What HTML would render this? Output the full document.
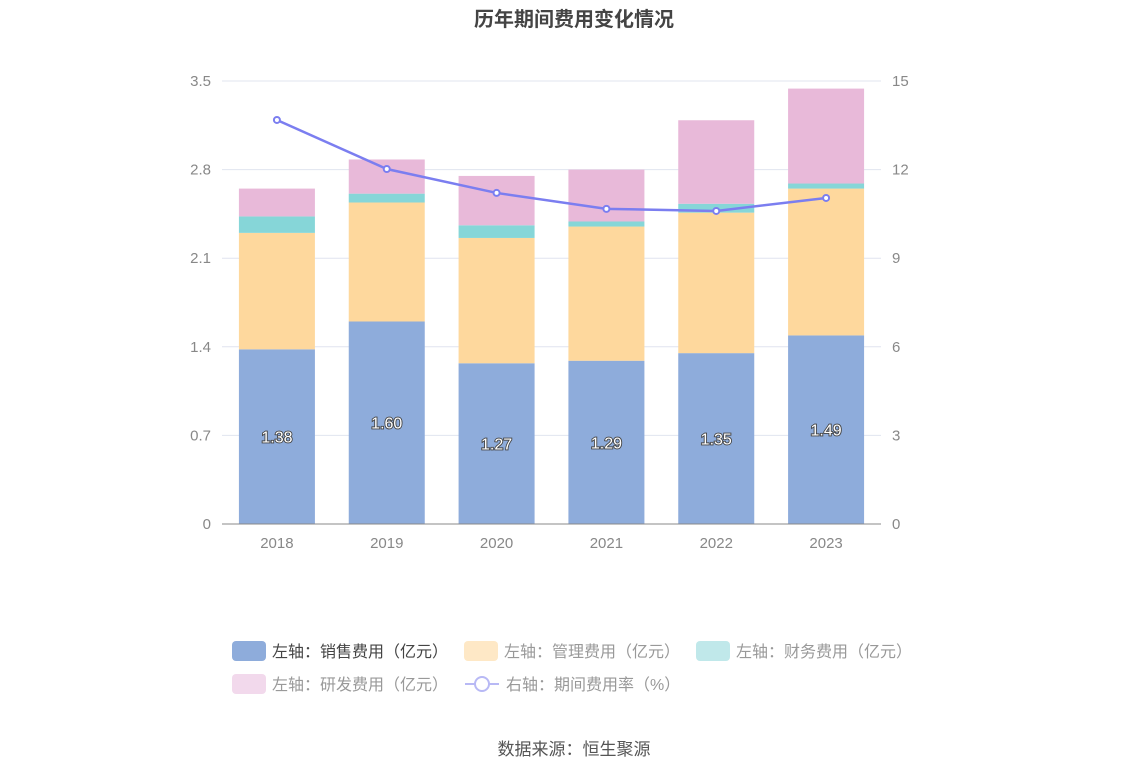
<!DOCTYPE html>
<html><head><meta charset="utf-8"><style>
body{margin:0;background:#fff;font-family:"Liberation Sans","Noto Sans CJK SC",sans-serif}
svg text{font-family:"Liberation Sans","Noto Sans CJK SC",sans-serif}
</style></head><body>
<svg id="c" width="1148" height="776">
<text x="574" y="26" text-anchor="middle" font-size="20" font-weight="bold" fill="#444">历年期间费用变化情况</text>
<g id="grid"></g><g id="bars"></g><g id="line"></g><g id="axes"></g>
<g id="legend"></g>
<text x="574" y="755" text-anchor="middle" font-size="17" fill="#555">数据来源：恒生聚源</text>
</svg>
<script>
const years=['2018','2019','2020','2021','2022','2023'];
const sales=[1.38,1.60,1.27,1.29,1.35,1.49];
const mgmt=[0.92,0.94,0.99,1.06,1.11,1.16];
const fin=[0.13,0.07,0.10,0.04,0.07,0.04];
const rnd=[0.22,0.27,0.39,0.41,0.66,0.75];
const rate=[13.68,12.02,11.21,10.67,10.60,11.04];
const leftTicks=['0','0.7','1.4','2.1','2.8','3.5'];
const rightTicks=['0','3','6','9','12','15'];
const NS='http://www.w3.org/2000/svg';
const L=222,R=881,T=81,B=524;
const yL=v=>B-v/3.5*(B-T), yR=v=>B-v/15*(B-T);
const cw=(R-L)/years.length, xc=i=>L+cw*(i+0.5), bw=76;
function mk(t,a,p){const e=document.createElementNS(NS,t);for(const k in a)e.setAttribute(k,a[k]);document.getElementById(p).appendChild(e);return e;}
leftTicks.forEach((t,i)=>{const y=B-i*(B-T)/5;
 if(i>0){const g=mk('line',{x1:L,x2:R,y1:y,y2:y,stroke:'#e0e4ef'},'grid');}
 const a=mk('text',{x:211,y:y+5,'text-anchor':'end','font-size':15,fill:'#888'},'axes');a.textContent=t;
 const b=mk('text',{x:892,y:y+5,'font-size':15,fill:'#888'},'axes');b.textContent=rightTicks[i];});
const ax=mk('line',{x1:L,x2:R,y1:B,y2:B,stroke:'#888'},'axes');
const series=[[sales,'#8eacdb','sales'],[mgmt,'#fed89d','mgmt'],[fin,'#86d6d8','finance'],[rnd,'#e8b9d9','rnd']];
years.forEach((yr,i)=>{let acc=0;
 series.forEach(([arr,col,nm])=>{const y1=yL(acc+arr[i]),y0=yL(acc);acc+=arr[i];
  const r=mk('rect',{x:xc(i)-bw/2,y:y1,width:bw,height:y0-y1,fill:col},'bars');});
 const t=mk('text',{x:xc(i),y:(yL(sales[i])+B)/2+6,'text-anchor':'middle','font-size':16,fill:'#fff',stroke:'#444','stroke-width':1.8,'paint-order':'stroke'},'bars');t.textContent=sales[i].toFixed(2);
 const x=mk('text',{x:xc(i),y:548,'text-anchor':'middle','font-size':15,fill:'#888'},'axes');x.textContent=yr;});
const pl=mk('polyline',{points:rate.map((v,i)=>xc(i)+','+yR(v)).join(' '),fill:'none',stroke:'#7b7ef0','stroke-width':2.5},'line');
rate.forEach((v,i)=>{const c=mk('circle',{cx:xc(i),cy:yR(v),r:3,fill:'#fff',stroke:'#7b7ef0','stroke-width':2},'line');});
const leg=[[232,651,'#8eacdb','左轴：销售费用（亿元）','#444'],[464,651,'#fee8c6','左轴：管理费用（亿元）','#999'],[696,651,'#c0e8ea','左轴：财务费用（亿元）','#999'],[232,684,'#f2d9ec','左轴：研发费用（亿元）','#999']];
leg.forEach(([x,y,c,t,tc])=>{const r=mk('rect',{x:x,y:y-10,width:34,height:20,rx:4,fill:c},'legend');
 const tx=mk('text',{x:x+40,y:y+6,'font-size':16,fill:tc},'legend');tx.textContent=t;});
const ll=mk('line',{x1:465,x2:499,y1:684,y2:684,stroke:'#b8b9f5','stroke-width':2},'legend');
const lc=mk('circle',{cx:482,cy:684,r:7,fill:'#fff',stroke:'#b8b9f5','stroke-width':2},'legend');
const lt=mk('text',{x:506,y:690,'font-size':16,fill:'#999'},'legend');lt.textContent='右轴：期间费用率（%）';
</script>
</body></html>
